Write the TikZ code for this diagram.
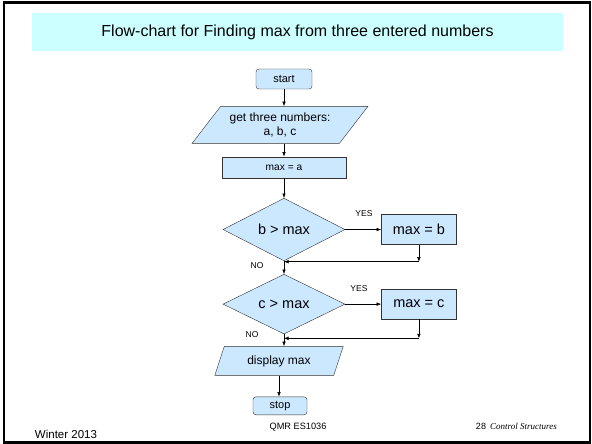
\documentclass[tikz,border=0pt]{standalone}
\usepackage{fontspec}
\setmainfont{Liberation Sans}
\newfontfamily\footserif{Liberation Serif}
\usetikzlibrary{shapes.geometric, arrows.meta, positioning}
\definecolor{TitleCyan}{HTML}{CCFFFF}
\definecolor{BoxBlue}{HTML}{CCE8FF}
\definecolor{EdgeGray}{HTML}{333333}

\tikzset{
  termbox/.style={draw=EdgeGray, fill=BoxBlue, rounded corners=3pt, inner sep=0pt,
    font=\fontsize{11}{12}\selectfont},
  procbox/.style={draw=EdgeGray, fill=BoxBlue, inner sep=0pt},
  iobox/.style={trapezium, trapezium stretches=true, draw=EdgeGray, fill=BoxBlue,
    inner sep=0pt, align=center, font=\fontsize{12}{14}\selectfont},
  testbox/.style={diamond, draw=EdgeGray, fill=BoxBlue, inner sep=0pt,
    minimum width=122pt, minimum height=52pt, font=\fontsize{14.5}{16}\selectfont},
  flow/.style={-{Latex[length=4.5pt,width=3.5pt]}, line width=0.5pt},
  branch/.style={font=\fontsize{8.5}{9}\selectfont},
  foot/.style={inner sep=0pt}
}

\begin{document}
\begin{tikzpicture}[x=1pt, y=-1pt]
  \useasboundingbox (0,0) rectangle (592,444);
  % slide frame and title band
  \draw[line width=2.5pt] (4,2.5) rectangle (590,442.5);
  \node[fill=TitleCyan, minimum width=531pt, minimum height=38pt, inner sep=0pt,
        font=\fontsize{16}{18}\selectfont] (title) at (297.5,32)
        {Flow-chart for Finding max from three entered numbers};

  % flow-chart nodes
  \node[termbox, minimum width=56pt, minimum height=20pt] (start) at (284,79) {start};
  \node[iobox, trapezium left angle=45, trapezium right angle=135,
        minimum width=176pt, minimum height=37pt,
        below=17pt of start, xshift=-4pt] (input) {get three numbers:\\a, b, c};
  \node[procbox, minimum width=124pt, minimum height=21pt,
        font=\fontsize{10.2}{12}\selectfont, below=13pt of input, xshift=4pt] (seta) {max = a};
  \node[testbox, below=20pt of seta] (testb) {b > max};
  \node[procbox, minimum width=75pt, minimum height=30pt,
        font=\fontsize{14.5}{16}\selectfont, right=36pt of testb] (setb) {max = b};
  \node[testbox, below=13pt of testb] (testc) {c > max};
  \node[procbox, minimum width=75pt, minimum height=30pt,
        font=\fontsize{14.5}{16}\selectfont, right=36pt of testc] (setc) {max = c};
  \node[iobox, trapezium left angle=64, trapezium right angle=116,
        minimum width=129pt, minimum height=29pt,
        below=12pt of testc, xshift=-5pt] (output) {display max};
  \node[termbox, minimum width=54pt, minimum height=18pt,
        below=21pt of output, xshift=1pt] (stop) {stop};

  % join points
  \coordinate[below=17pt of setb.south] (joinb);
  \coordinate[below=19pt of setc.south] (joinc);

  % connectors
  \draw[flow] (start) -- (start |- input.north);
  \draw[flow] (seta |- input.south) -- (seta);
  \draw[flow] (seta) -- (testb);
  \draw[flow] (testb.east) -- (setb.west);
  \draw[flow] (setb) -- (joinb);
  \draw[flow] (joinb) -- (joinb -| testb.south);
  \draw[flow] (testb) -- (testc);
  \draw[flow] (testc.east) -- (setc.west);
  \draw[flow] (setc) -- (joinc);
  \draw[flow] (joinc) -- (joinc -| testc.south);
  \draw[flow] (testc.south) -- (testc.south |- output.north);
  \draw[flow] (output.south) -- (output.south |- stop.north);

  % branch labels
  \node[branch] (yesb) at (364,214) {YES};
  \node[branch] (nob) at (257,266) {NO};
  \node[branch] (yesc) at (359,289) {YES};
  \node[branch] (noc) at (252,335) {NO};

  % footer
  \node[foot, font=\fontsize{11.5}{12}\selectfont] (season) at (66,434) {Winter 2013};
  \node[foot, font=\fontsize{9.2}{10}\selectfont] (course) at (298,427) {QMR ES1036};
  \node[foot, font=\fontsize{9}{10}\selectfont] (page) at (481,426) {28};
  \node[foot, font=\footserif\itshape\fontsize{9}{10}\selectfont, anchor=west]
        (topic) at (490,426) {Control Structures};
\end{tikzpicture}
\end{document}
